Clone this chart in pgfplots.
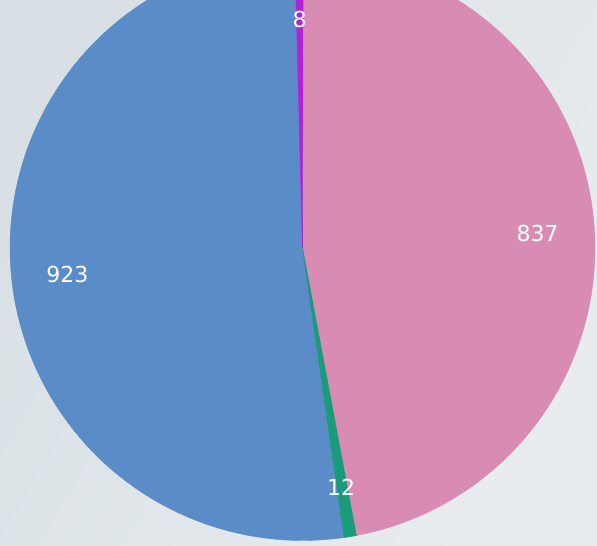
\documentclass[border=0pt]{standalone}
\usepackage{pgfplots}
\pgfplotsset{compat=1.18}
\usepackage{fontspec}
\setmainfont{DejaVu Sans}
\definecolor{cPurple}{HTML}{B322D6}
\definecolor{cPink}{HTML}{D98CB3}
\definecolor{cGreen}{HTML}{1A9B7A}
\definecolor{cBlue}{HTML}{5A8DC8}
\definecolor{bgL}{HTML}{D8E0E5}
\definecolor{bgR}{HTML}{E8ECEE}
\begin{document}
\begin{tikzpicture}
\def\cx{302.5}\def\cy{298}\def\R{292.5}\def\start{91.5}
% slice values
\def\vA{8}\def\vB{837}\def\vC{12}\def\vD{923}
\pgfmathsetmacro\tot{\vA+\vB+\vC+\vD}
\pgfmathsetmacro\aA{\start}
\pgfmathsetmacro\aB{\aA-360*(\vA/\tot)}
\pgfmathsetmacro\aC{\aB-360*(\vB/\tot)}
\pgfmathsetmacro\aD{\aC-360*(\vC/\tot)}
\pgfmathsetmacro\aE{\aD-360*(\vD/\tot)}
\pgfmathsetmacro\mA{(\aA+\aB)/2}
\pgfmathsetmacro\mB{(\aB+\aC)/2}
\pgfmathsetmacro\mC{(\aC+\aD)/2}
\pgfmathsetmacro\mD{(\aD+\aE)/2}
\begin{axis}[scale only axis, width=597pt, height=546pt,
  xmin=0, xmax=597, ymin=0, ymax=546, hide axis]
\path[left color=bgL, right color=bgR, shading angle=60] (axis cs:0,0) rectangle (axis cs:597,546);
\addplot[draw=cPink, line width=0.4pt, fill=cPink, domain=\aC:\aB, samples=200]
  ({\cx+\R*cos(x)},{\cy+\R*sin(x)}) -- (axis cs:\cx,\cy) -- cycle;
\addplot[draw=cBlue, line width=0.4pt, fill=cBlue, domain=\aE:\aD, samples=200]
  ({\cx+\R*cos(x)},{\cy+\R*sin(x)}) -- (axis cs:\cx,\cy) -- cycle;
\addplot[draw=cPurple, line width=0.6pt, fill=cPurple, domain=\aB:\aA, samples=6]
  ({\cx+\R*cos(x)},{\cy+\R*sin(x)}) -- (axis cs:\cx,\cy) -- cycle;
\addplot[draw=cGreen, line width=0.6pt, fill=cGreen, domain=\aD:\aC, samples=6]
  ({\cx+\R*cos(x)},{\cy+\R*sin(x)}) -- (axis cs:\cx,\cy) -- cycle;
\node[text=white, font=\fontsize{22}{22}\selectfont] at (axis cs:{\cx+236*cos(\mA)},{\cy+236*sin(\mA)-7}) {8};
\node[text=white, font=\fontsize{22}{22}\selectfont] at (axis cs:{\cx+236*cos(\mB)},{\cy+236*sin(\mB)-7}) {837};
\node[text=white, font=\fontsize{22}{22}\selectfont] at (axis cs:{\cx+236*cos(\mC)},{\cy+236*sin(\mC)-7}) {12};
\node[text=white, font=\fontsize{22}{22}\selectfont] at (axis cs:{\cx+236*cos(\mD)},{\cy+236*sin(\mD)-7}) {923};
\end{axis}
\pgfresetboundingbox
\useasboundingbox (current axis.south west) rectangle (current axis.north east);
\end{tikzpicture}
\end{document}
